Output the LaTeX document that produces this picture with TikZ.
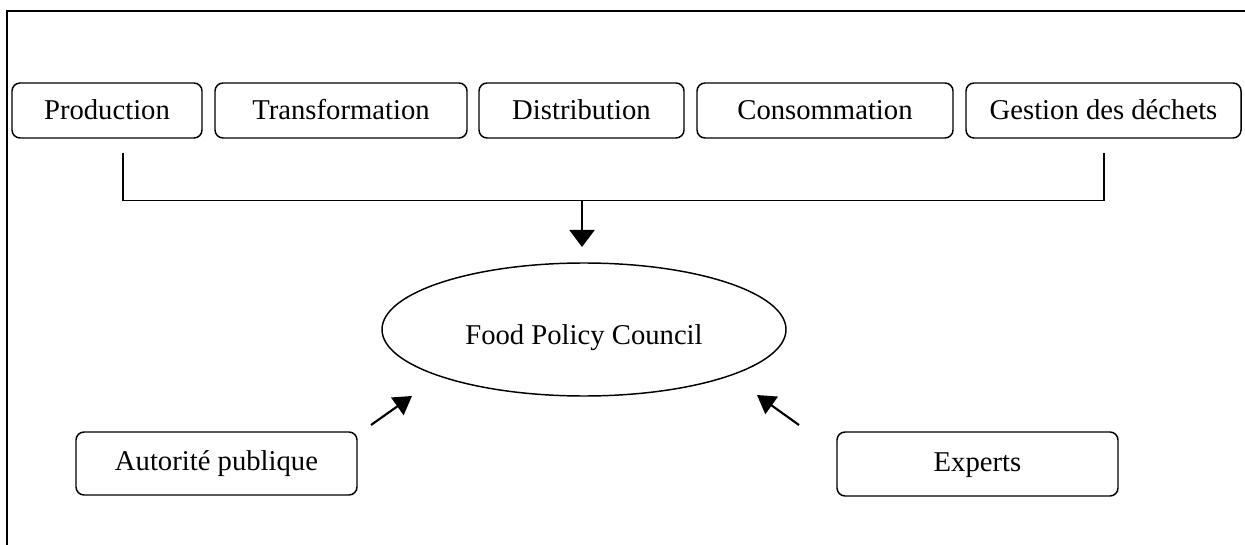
\documentclass[tikz,border=0pt]{standalone}
\usepackage{fontspec}
\setmainfont{Liberation Serif}
\usetikzlibrary{arrows.meta,shapes.geometric}
\tikzset{
  topbox/.style={draw, line width=1.1pt, rounded corners=6pt, inner sep=0pt,
    minimum height=41.25pt, text height=13.6pt, text depth=0pt},
  lowbox/.style={draw, line width=1.1pt, rounded corners=6pt, inner sep=0pt,
    minimum width=210.75pt, text height=14pt, text depth=3.5pt},
  council/.style={draw, ellipse, line width=1.1pt, inner sep=0pt,
    minimum width=303pt, minimum height=99.75pt},
  thinline/.style={line width=1pt},
  bigarrow/.style={line width=1.6pt, -{Triangle[length=12.75pt,width=18.75pt]}},
  diagarrow/.style={line width=1.6pt, -{Triangle[length=13.5pt,width=16pt]}},
  frameline/.style={line width=1.6pt}
}
\begin{document}
\begin{tikzpicture}[x=0.75pt,y=-0.75pt,font=\fontsize{21.5}{26}\selectfont]
\useasboundingbox (0,0) rectangle (1245,545);
\draw[frameline] (7,545) -- (7,11) -- (1245,11);

\node[topbox, minimum width=142.5pt]  (prod) at (107,110.5) {Production};
\node[topbox, minimum width=189pt]    (trans) at (341,110.5) {Transformation};
\node[topbox, minimum width=153.75pt] (dist) at (581.5,110.5) {Distribution};
\node[topbox, minimum width=192pt]    (cons) at (825,110.5) {Consommation};
\node[topbox, minimum width=206.25pt] (gest) at (1103.5,110.5) {Gestion des déchets};

\node[council] (fpc) at (584,329.5) {\raisebox{-11.6pt}[0pt][0pt]{Food Policy Council}};

\node[lowbox, minimum height=47.25pt] (aut) at (216.5,463.5) {Autorité publique};
\node[lowbox, minimum height=48pt] (exp) at (977.5,464) {Experts};

\coordinate (bl) at (123,153);
\coordinate (br) at (1104,153);
\coordinate (bm) at (582,200.7);
\coordinate (bt) at (582,247);
\draw[thinline] (bl) |- (bm) -| (br);
\draw[bigarrow] (bm) -- (bt);

\coordinate (al) at (371,425);
\coordinate (alt) at (412,396);
\coordinate (er) at (799,425);
\coordinate (ert) at (757,395);
\draw[diagarrow] (al) -- (alt);
\draw[diagarrow] (er) -- (ert);
\end{tikzpicture}
\end{document}
